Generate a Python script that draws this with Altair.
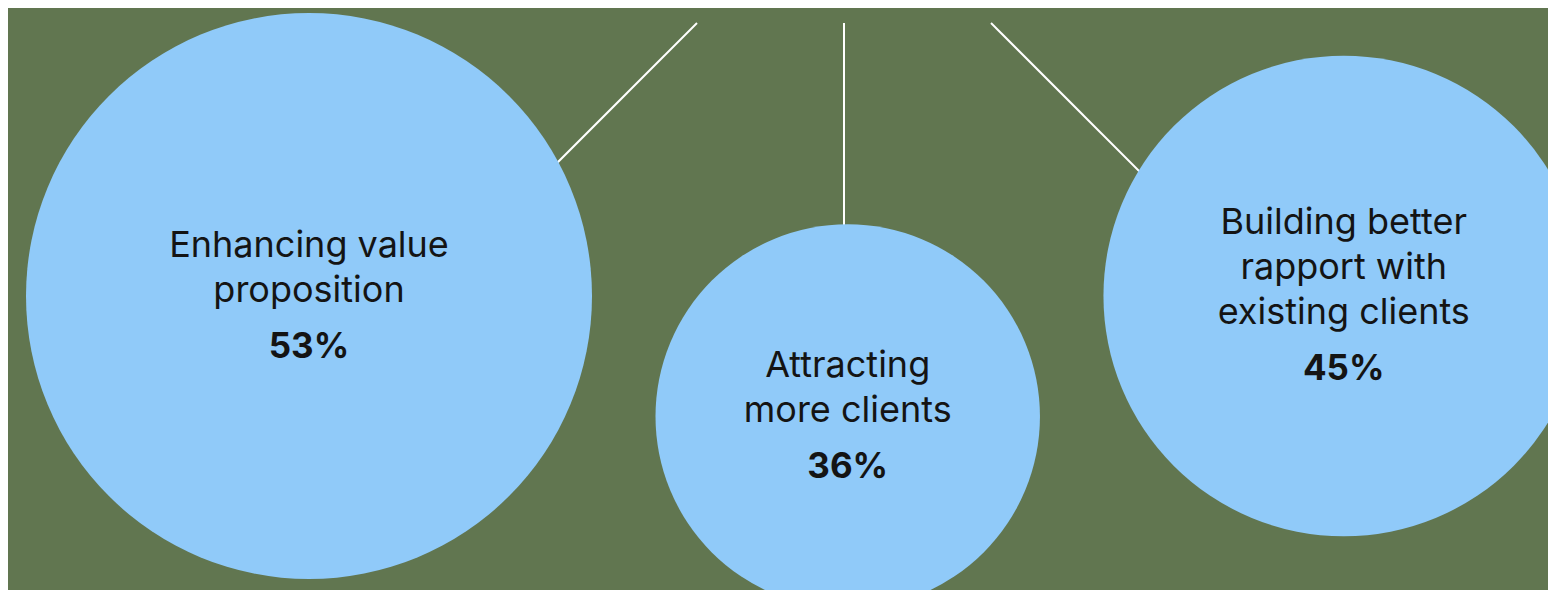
import altair as alt
import pandas as pd

# ---- data ----
categories = [
    "Enhancing value proposition",
    "Attracting more clients",
    "Building better rapport with existing clients",
]
label_lines = [
    ["Enhancing value", "proposition"],
    ["Attracting", "more clients"],
    ["Building better", "rapport with", "existing clients"],
]
values = [53, 36, 45]

df = pd.DataFrame({
    "category": categories,
    "lines": label_lines,
    "value": values,
    "order": list(range(len(categories))),
    "nlines": [len(l) for l in label_lines],
})
df["pct"] = df["value"].astype(str) + "%"

# ---- layout / style constants ----
W, H = 1540, 582
BG = "#617650"
FILL = "#90CAF9"
INK = "#141414"
FONT = "Inter"
PX_PER_PCT = 566 / 53      # circle diameter per percentage point
GAP = 63.5                 # gap between neighbouring circles
LEFT = 18                  # left edge of first circle
BASE_Y = 288               # centre line of outer circles
DROP = 120.5               # middle circle sits lower
APEX_X, APEX_Y = 836, -132 # connectors fan out from here
TOP_Y = 15                 # connectors start here
LH = 45

base = alt.Chart(df).transform_calculate(
    d=f"datum.value * {PX_PER_PCT}"
).transform_window(
    cum="sum(d)", sort=[alt.SortField("order")], frame=[None, 0]
).transform_calculate(
    cx=f"{LEFT} + datum.cum - datum.d / 2 + datum.order * {GAP}",
    cy=f"datum.order % 2 == 1 ? {BASE_Y + DROP} : {BASE_Y}",
    dir="datum.order - 1",
)

connectors = base.transform_calculate(
    x1=f"{APEX_X} + datum.dir * ({TOP_Y} - ({APEX_Y}))",
    y1=f"{TOP_Y}",
    x2=f"{APEX_X} + datum.dir * (datum.cy - ({APEX_Y}))",
    y2="datum.cy",
).mark_rule(color="white", strokeWidth=2).encode(
    x=alt.X("x1:Q", scale=None, axis=None),
    y=alt.Y("y1:Q", scale=None, axis=None),
    x2="x2:Q",
    y2="y2:Q",
)

D100 = PX_PER_PCT * 100
circles = base.mark_circle(color=FILL, opacity=1).encode(
    x=alt.X("cx:Q", scale=None, axis=None),
    y=alt.Y("cy:Q", scale=None, axis=None),
    size=alt.Size("value:Q", scale=alt.Scale(type="pow", exponent=2,
                                             domain=[0, 100], range=[0, D100 ** 2]),
                  legend=None),
)

labels = base.transform_calculate(
    ty=f"datum.cy + 5.5 - 22.5 * datum.nlines"
).mark_text(font=FONT, fontSize=36, color=INK, align="center",
            baseline="alphabetic", lineHeight=LH).encode(
    x=alt.X("cx:Q", scale=None, axis=None),
    y=alt.Y("ty:Q", scale=None, axis=None),
    text="lines",
)

pcts = base.transform_calculate(
    ty=f"datum.cy + 16.5 + 22.5 * datum.nlines"
).mark_text(font=FONT, fontSize=35, fontWeight="bold", color=INK,
            align="center", baseline="alphabetic").encode(
    x=alt.X("cx:Q", scale=None, axis=None),
    y=alt.Y("ty:Q", scale=None, axis=None),
    text="pct:N",
)

chart = alt.layer(connectors, circles, labels, pcts).properties(
    width=W, height=H,
    background=BG,
    padding=0,
    autosize=alt.AutoSizeParams(type="none"),
).configure_view(stroke=None)

chart.save("out.html", embed_options={"renderer": "svg", "actions": False})
